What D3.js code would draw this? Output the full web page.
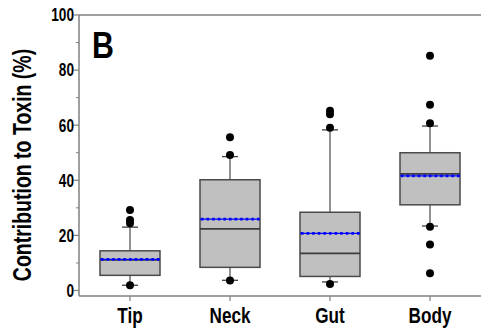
<!DOCTYPE html>
<html>
<head>
<meta charset="utf-8">
<script src="https://cdn.jsdelivr.net/npm/d3@7"></script>
<style>
  body { margin: 0; background: #fff; }
  text { font-family: "Liberation Sans Narrow", "Arial Narrow", "Liberation Sans", sans-serif; font-weight: bold; fill: #000; }
</style>
</head>
<body>
<div id="chart"></div>
<script>
const categories = ["Tip", "Neck", "Gut", "Body"];
const q1 = [5.5, 8.4, 5.1, 31.1];
const q3 = [14.4, 40.2, 28.4, 50.0];
const medians = [11.1, 22.4, 13.5, 42.3];
const means = [11.3, 25.9, 20.7, 41.6];
const whiskerLow = [1.9, 3.7, 3.1, 23.4];
const whiskerHigh = [23.0, 48.6, 58.3, 59.7];
const outliers = [
    [29.2, 25.6, 24.4, 1.9],
    [55.6, 49.2, 3.6],
    [65.2, 64.0, 59.1, 2.4],
    [85.2, 67.4, 60.7, 23.1, 16.7, 6.3]
];
const yTicks = [0, 20, 40, 60, 80, 100];
const yMinorTicks = [10, 30, 50, 70, 90];

const width = 481;
const height = 332;
// no narrow font installed, so squeeze the text horizontally
const squeeze = 0.78;

const svg = d3.select("#chart")
    .append("svg")
    .attr("width", width)
    .attr("height", height);

const x = d3.scaleBand().domain(categories).range([80, 480]).paddingInner(0.4).paddingOuter(0.2);
const y = d3.scaleLinear().domain([-2, 100]).range([296, 15]);
const cx = d => x(d) + x.bandwidth() / 2;

const axisColor = "#808080";

// frame: left axis, top line, bottom axis
svg.append("line").attr("x1", 79).attr("x2", 79).attr("y1", 15).attr("y2", 296)
    .attr("stroke", axisColor).attr("stroke-width", 1.5);
svg.append("line").attr("x1", 79).attr("x2", 481).attr("y1", 15).attr("y2", 15)
    .attr("stroke", axisColor).attr("stroke-width", 1.5);
svg.append("line").attr("x1", 79).attr("x2", 481).attr("y1", 296).attr("y2", 296)
    .attr("stroke", axisColor).attr("stroke-width", 1.5);

// y ticks
svg.selectAll(".ytick").data(yTicks).enter().append("line")
    .attr("x1", 74).attr("x2", 79)
    .attr("y1", d => y(d)).attr("y2", d => y(d))
    .attr("stroke", axisColor).attr("stroke-width", 1.2);
svg.selectAll(".yminor").data(yMinorTicks).enter().append("line")
    .attr("x1", 76).attr("x2", 79)
    .attr("y1", d => y(d)).attr("y2", d => y(d))
    .attr("stroke", axisColor).attr("stroke-width", 1);
svg.selectAll(".ylabel").data(yTicks).enter().append("text")
    .attr("transform", d => `translate(74,${y(d)}) scale(${squeeze},1)`)
    .attr("dy", "0.36em")
    .attr("text-anchor", "end")
    .style("font-size", "17.5px")
    .text(d => d);

// x ticks and labels
svg.selectAll(".xtick").data(categories).enter().append("line")
    .attr("x1", cx).attr("x2", cx)
    .attr("y1", 296).attr("y2", 301)
    .attr("stroke", axisColor).attr("stroke-width", 1.2);
svg.selectAll(".xlabel").data(categories).enter().append("text")
    .attr("transform", d => `translate(${cx(d)},323) scale(${squeeze},1)`)
    .attr("text-anchor", "middle")
    .style("font-size", "22px")
    .text(d => d);

// y axis title
svg.append("text")
    .attr("transform", `translate(31,165) rotate(-90) scale(${squeeze},1)`)
    .attr("text-anchor", "middle")
    .style("font-size", "25px")
    .text("Contribution to Toxin (%)");

// panel letter
svg.append("text")
    .attr("transform", "translate(92,58) scale(0.82,1)")
    .style("font-size", "37px")
    .text("B");

// boxes
const boxes = svg.selectAll(".box").data(categories).enter().append("g");

boxes.append("line")
    .attr("x1", cx).attr("x2", cx)
    .attr("y1", (d, i) => y(q3[i])).attr("y2", (d, i) => y(whiskerHigh[i]))
    .attr("stroke", "#6e6e6e").attr("stroke-width", 1.5);
boxes.append("line")
    .attr("x1", cx).attr("x2", cx)
    .attr("y1", (d, i) => y(q1[i])).attr("y2", (d, i) => y(whiskerLow[i]))
    .attr("stroke", "#6e6e6e").attr("stroke-width", 1.5);
boxes.append("line")
    .attr("x1", d => cx(d) - 8).attr("x2", d => cx(d) + 8)
    .attr("y1", (d, i) => y(whiskerHigh[i])).attr("y2", (d, i) => y(whiskerHigh[i]))
    .attr("stroke", "#404040").attr("stroke-width", 1.3);
boxes.append("line")
    .attr("x1", d => cx(d) - 8).attr("x2", d => cx(d) + 8)
    .attr("y1", (d, i) => y(whiskerLow[i])).attr("y2", (d, i) => y(whiskerLow[i]))
    .attr("stroke", "#404040").attr("stroke-width", 1.3);

boxes.append("rect")
    .attr("x", d => x(d)).attr("width", x.bandwidth())
    .attr("y", (d, i) => y(q3[i]))
    .attr("height", (d, i) => y(q1[i]) - y(q3[i]))
    .attr("fill", "#c0c0c0").attr("stroke", "#4a4a4a").attr("stroke-width", 1.5);

boxes.append("line")
    .attr("x1", d => x(d)).attr("x2", d => x(d) + x.bandwidth())
    .attr("y1", (d, i) => y(medians[i])).attr("y2", (d, i) => y(medians[i]))
    .attr("stroke", "#3c3c3c").attr("stroke-width", 1.8);

// mean: blue dotted line
boxes.append("line")
    .attr("x1", d => x(d)).attr("x2", d => x(d) + x.bandwidth())
    .attr("y1", (d, i) => y(means[i])).attr("y2", (d, i) => y(means[i]))
    .attr("stroke", "#0000ff").attr("stroke-width", 1.2);
boxes.append("line")
    .attr("x1", d => x(d) + 1).attr("x2", d => x(d) + x.bandwidth())
    .attr("y1", (d, i) => y(means[i])).attr("y2", (d, i) => y(means[i]))
    .attr("stroke", "#0000ff").attr("stroke-width", 2.8)
    .attr("stroke-dasharray", "2.5,3.1");

// outliers
boxes.each(function(d, i) {
    d3.select(this).selectAll("circle").data(outliers[i]).enter().append("circle")
        .attr("cx", cx(d))
        .attr("cy", v => y(v))
        .attr("r", 4)
        .attr("fill", "#000");
});
</script>
</body>
</html>
